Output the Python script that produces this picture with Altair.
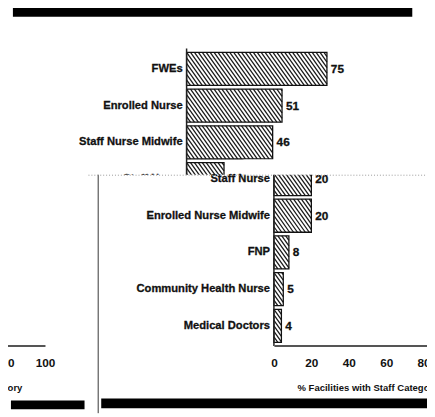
import altair as alt
import pandas as pd

# ---------------- data ----------------
categories = ["FWEs", "Enrolled Nurse", "Staff Nurse Midwife", "Staff Nurse",
              "Enrolled Nurse Midwife", "FNP", "Community Health Nurse", "Medical Doctors"]
values = [75, 51, 46, 20, 20, 8, 5, 4]
tick_values = [0, 20, 40, 60, 80, 100]
axis_title = "% Facilities with Staff Category"

# ---------------- layout / style ----------------
FONT = "Liberation Sans"
W = 427
H = 409
PANEL_Y = 166          # top edge of the overlaid lower panel (px)
PX_PER_PCT = 1.907
ROW_PX = 37.4
ROW_TOP = 39.5
BAND = 0.9
HATCH_GAP = 4.0
HATCH_RUN = 24.0
N = len(categories)

df = pd.DataFrame({"category": categories, "value": values, "row": list(range(N))})
df["x0"] = 0
df["y0"] = df["row"] + (1 - BAND) / 2
df["y1"] = df["row"] + (1 + BAND) / 2
df["ym"] = df["row"] + 0.5

# hatch strokes derived from the bar values (styling of the bars)
segs = []
bar_h = BAND * ROW_PX
for r, v in enumerate(values):
    w = v * PX_PER_PCT
    c = -HATCH_RUN
    while c < w:
        t0 = max(0.0, -c / HATCH_RUN)
        t1 = min(1.0, (w - c) / HATCH_RUN)
        if t1 > t0:
            segs.append({
                "row": r,
                "hx": (c + t0 * HATCH_RUN) / PX_PER_PCT,
                "hx2": (c + t1 * HATCH_RUN) / PX_PER_PCT,
                "hy": r + (1 - BAND) / 2 + t0 * bar_h / ROW_PX,
                "hy2": r + (1 - BAND) / 2 + t1 * bar_h / ROW_PX,
            })
        c += HATCH_GAP
hatch = pd.DataFrame(segs)

one = pd.DataFrame({"d": [0]})
YS = alt.Scale(domain=[0, N], range=[ROW_TOP, ROW_TOP + N * ROW_PX], nice=False, zero=False)


def make_axis():
    return alt.Axis(values=tick_values, format="d", orient="bottom", offset=-69,
                    title=axis_title, ticks=False, tickSize=0, grid=False,
                    domainColor="#555", domainWidth=2, zindex=2,
                    labelFont=FONT, labelFontSize=12, labelFontWeight="bold",
                    labelColor="#111", labelPadding=12, labelFlush=False,
                    labelOverlap=False,
                    titleFont=FONT, titleFontSize=9.7, titleFontWeight="bold",
                    titleColor="#111", titlePadding=15)


def chart_copy(x_zero, rows, with_axis, zero_from, full=True):
    xs = alt.Scale(domain=[0, 100], range=[x_zero, x_zero + 100 * PX_PER_PCT],
                   nice=False, zero=False)
    ax = make_axis() if with_axis else None
    lo, hi = rows
    sel = f"datum.row >= {lo} && datum.row <= {hi}"

    def X(f):
        return alt.X(f, scale=xs, axis=ax)

    def Y(f):
        return alt.Y(f, scale=YS, axis=None)

    base = alt.Chart(df).transform_filter(sel)
    fill = base.mark_rect(fill="white", clip=True).encode(
        x=X("x0:Q"), x2="value:Q", y=Y("y0:Q"), y2="y1:Q")
    if not full:
        return fill
    lines = alt.Chart(hatch).transform_filter(sel).mark_rule(
        color="#1a1a1a", strokeWidth=1.3, clip=True).encode(
        x=X("hx:Q"), x2="hx2:Q", y=Y("hy:Q"), y2="hy2:Q")
    outline = base.mark_rect(fillOpacity=0, stroke="#111", strokeWidth=1.3, clip=True).encode(
        x=X("x0:Q"), x2="value:Q", y=Y("y0:Q"), y2="y1:Q")
    zl = alt.Chart(pd.DataFrame({"x0": [0], "ya": [zero_from], "yb": [hi + 1.05]})).mark_rule(
        color="#222", strokeWidth=1.5, clip=True).encode(
        x=X("x0:Q"), y=Y("ya:Q"), y2="yb:Q")
    labels = base.mark_text(align="right", baseline="middle", dx=-4, font=FONT,
                            fontSize=11.4, fontWeight="bold", color="#111",
                            stroke="#111", strokeWidth=0.3, clip=True).encode(
        x=X("x0:Q"), y=Y("ym:Q"), text="category:N")
    vals = base.mark_text(align="left", baseline="middle", dx=4, font=FONT,
                          fontSize=12, fontWeight="bold", color="#111",
                          stroke="#111", strokeWidth=0.3, clip=True).encode(
        x=X("value:Q"), y=Y("ym:Q"), text="value:Q")
    return alt.layer(fill, lines, outline, zl, labels, vals)


def rect(x, x2, y, y2, color):
    return alt.Chart(one).mark_rect(color=color).encode(
        x=alt.value(x), x2=alt.value(x2), y=alt.value(y), y2=alt.value(y2))


# first copy (upper page), only its top rows are visible
copy_a = chart_copy(182, (0, 3), False, -0.06)
# white lower panel pasted over it
cover = rect(0, W, PANEL_Y, H, "white")
# second copy on the lower panel
copy_b = chart_copy(271, (3, 7), True, 3.0)
strip = rect(240, W, 150.5, PANEL_Y, "white")
# fragment of a third copy at the far left (only its axis survives)
copy_c = chart_copy(-153, (0, 7), True, 0, full=False)

top_bar = rect(5, 412, -5, 5, "black")
vline = alt.Chart(one).mark_rule(color="#777", strokeWidth=1.5).encode(
    x=alt.value(92), y=alt.value(PANEL_Y), y2=alt.value(H))
dline = alt.Chart(one).mark_rule(color="#999", strokeWidth=1, strokeDash=[1, 2]).encode(
    x=alt.value(82), x2=alt.value(W), y=alt.value(PANEL_Y + 0.5))
bbar_l = rect(3, 78, 396, 405, "black")
bbar_r = rect(95, W, 394, 404, "black")

chart = alt.layer(
    copy_a, cover, copy_b, strip, copy_c, top_bar, vline, dline, bbar_l, bbar_r
).resolve_scale(x="independent").resolve_axis(x="independent").properties(
    width=W, height=H, padding=0, autosize="none", background="white"
).configure_view(stroke="transparent")

chart.save("out.html", embed_options={"renderer": "svg", "actions": False})
